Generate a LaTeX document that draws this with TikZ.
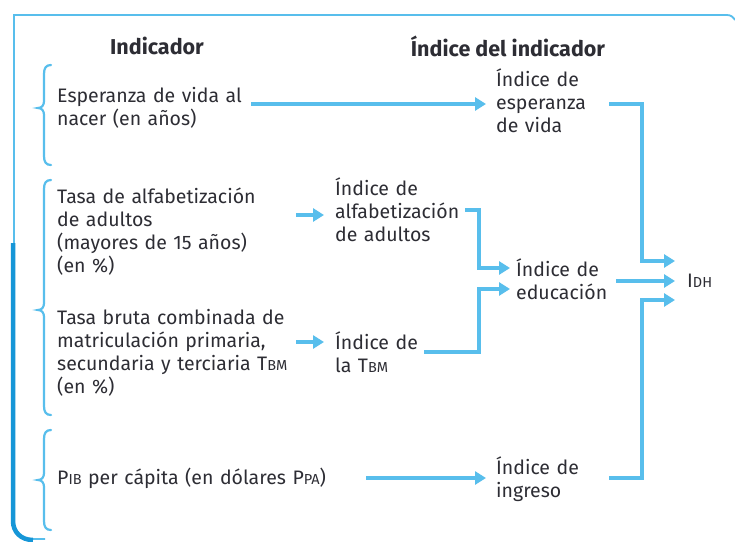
\documentclass[tikz,border=0pt]{standalone}
\usepackage{fontspec}
\setmainfont{Fira Sans}
\usetikzlibrary{arrows.meta}
\definecolor{lb}{RGB}{88,190,236}
\definecolor{db}{RGB}{22,150,215}
\definecolor{tx}{RGB}{45,45,52}
\newcommand\smc[1]{{\fontsize{14.5}{14}\selectfont #1}}
\newcommand\mybrace[3]{\draw[brc] (51,#1) .. controls (46,#1) and (44,#1+3) .. (44,#1+9) -- (44,#2-7) .. controls (44,#2-3) and (42,#2) .. (38,#2) .. controls (42,#2) and (44,#2+3) .. (44,#2+7) -- (44,#3-9) .. controls (44,#3-3) and (46,#3) .. (51,#3);}
\begin{document}
\begin{tikzpicture}[x=1pt,y=-1pt,
 txt/.style={anchor=west,align=left,inner sep=0pt,text=tx,font=\fontsize{19.5}{23}\selectfont},
 hd/.style={inner sep=0pt,text=tx,font=\bfseries\fontsize{21.5}{24}\selectfont},
 arr/.style={draw=lb,line width=3.2pt,-{Triangle[length=11pt,width=13pt]}},
 brc/.style={draw=lb,line width=2.2pt,line cap=round},
 ]
\useasboundingbox[fill=white] (0,0) rectangle (735,541);
% frame
\draw[lb,line width=1.8pt] (13,15) -- (727,15) .. controls (731,15) and (733,17) .. (735,20);
\draw[lb,line width=1.8pt] (14,15) -- (14,521) .. controls (14,531) and (22,539) .. (32,539) -- (45,539);
\draw[db,line width=4.5pt] (13,243) -- (13,521) .. controls (13,532) and (21,540) .. (33,540);
% braces
\mybrace{65}{108}{165}
\mybrace{180}{310}{415}
\mybrace{430}{480}{530}
% headings
\node[hd] (h1) at (157,46) {Indicador};
\node[hd] (h2) at (508,46) {Índice del indicador};
% texts
\node[txt,text width=200pt] (esp) at (57,108) {Esperanza de vida al\\nacer (en años)};
\node[txt,text width=100pt] (iesp) at (496,101) {Índice de\\esperanza\\de vida};
\node[txt,text width=225pt] (alf) at (57,232) {Tasa de alfabetización\\de adultos\\(mayores de 15 años)\\(en \%)};
\node[txt,text width=140pt] (ialf) at (335,210) {Índice de\\alfabetización\\de adultos};
\node[txt,text width=105pt] (edu) at (516,279) {Índice de\\educación};
\node[txt] (idh) at (687,281) {I\smc{DH}};
\node[txt,text width=245pt] (tbm) at (57,353) {Tasa bruta combinada de\\matriculación primaria,\\secundaria y terciaria T\smc{BM}\\(en \%)};
\node[txt,text width=95pt] (itbm) at (335,352) {Índice de\\la T\smc{BM}};
\node[txt,text width=290pt] (pib) at (57,478) {P\smc{IB} per cápita (en dólares P\smc{PA})};
\node[txt,text width=100pt] (ing) at (496,479) {Índice de\\ingreso};
% rows and columns
\coordinate (r104) at (0,104);
\coordinate (r215) at (0,215);
\coordinate (r210) at (0,210);
\coordinate (r268) at (0,268);
\coordinate (r289) at (0,289);
\coordinate (r342) at (0,342);
\coordinate (r352) at (0,352);
\coordinate (r478) at (0,478);
\coordinate (r261) at (0,261);
\coordinate (r281) at (0,281);
\coordinate (r300) at (0,300);
\coordinate (bx) at (642,0);
\coordinate (bx2) at (479,0);
% connectors
\draw[arr] ([xshift=-6pt]esp.east |- r104) -- ([xshift=-10pt]iesp.west |- r104);
\draw[arr] ([xshift=13pt]iesp.east |- r104) -| (bx |- r261) -- ([xshift=-12pt]idh.west |- r261);
\draw[arr] ([xshift=14pt]alf.east |- r215) -- ([xshift=-11pt]ialf.west |- r215);
\draw[arr] ([xshift=-10pt]ialf.east |- r210) -| (bx2 |- r268) -- ([xshift=-6pt]edu.west |- r268);
\draw[arr] ([xshift=-6pt]tbm.east |- r342) -- ([xshift=-11pt]itbm.west |- r342);
\draw[arr] ([xshift=-6pt]itbm.east |- r352) -| (bx2 |- r289) -- ([xshift=-6pt]edu.west |- r289);
\draw[arr] ([xshift=-5pt]edu.east |- r281) -- ([xshift=-12pt]idh.west |- r281);
\draw[arr] ([xshift=19pt]pib.east |- r478) -- ([xshift=-10pt]ing.west |- r478);
\draw[arr] ([xshift=13pt]ing.east |- r478) -| (bx |- r300) -- ([xshift=-12pt]idh.west |- r300);
\end{tikzpicture}
\end{document}
